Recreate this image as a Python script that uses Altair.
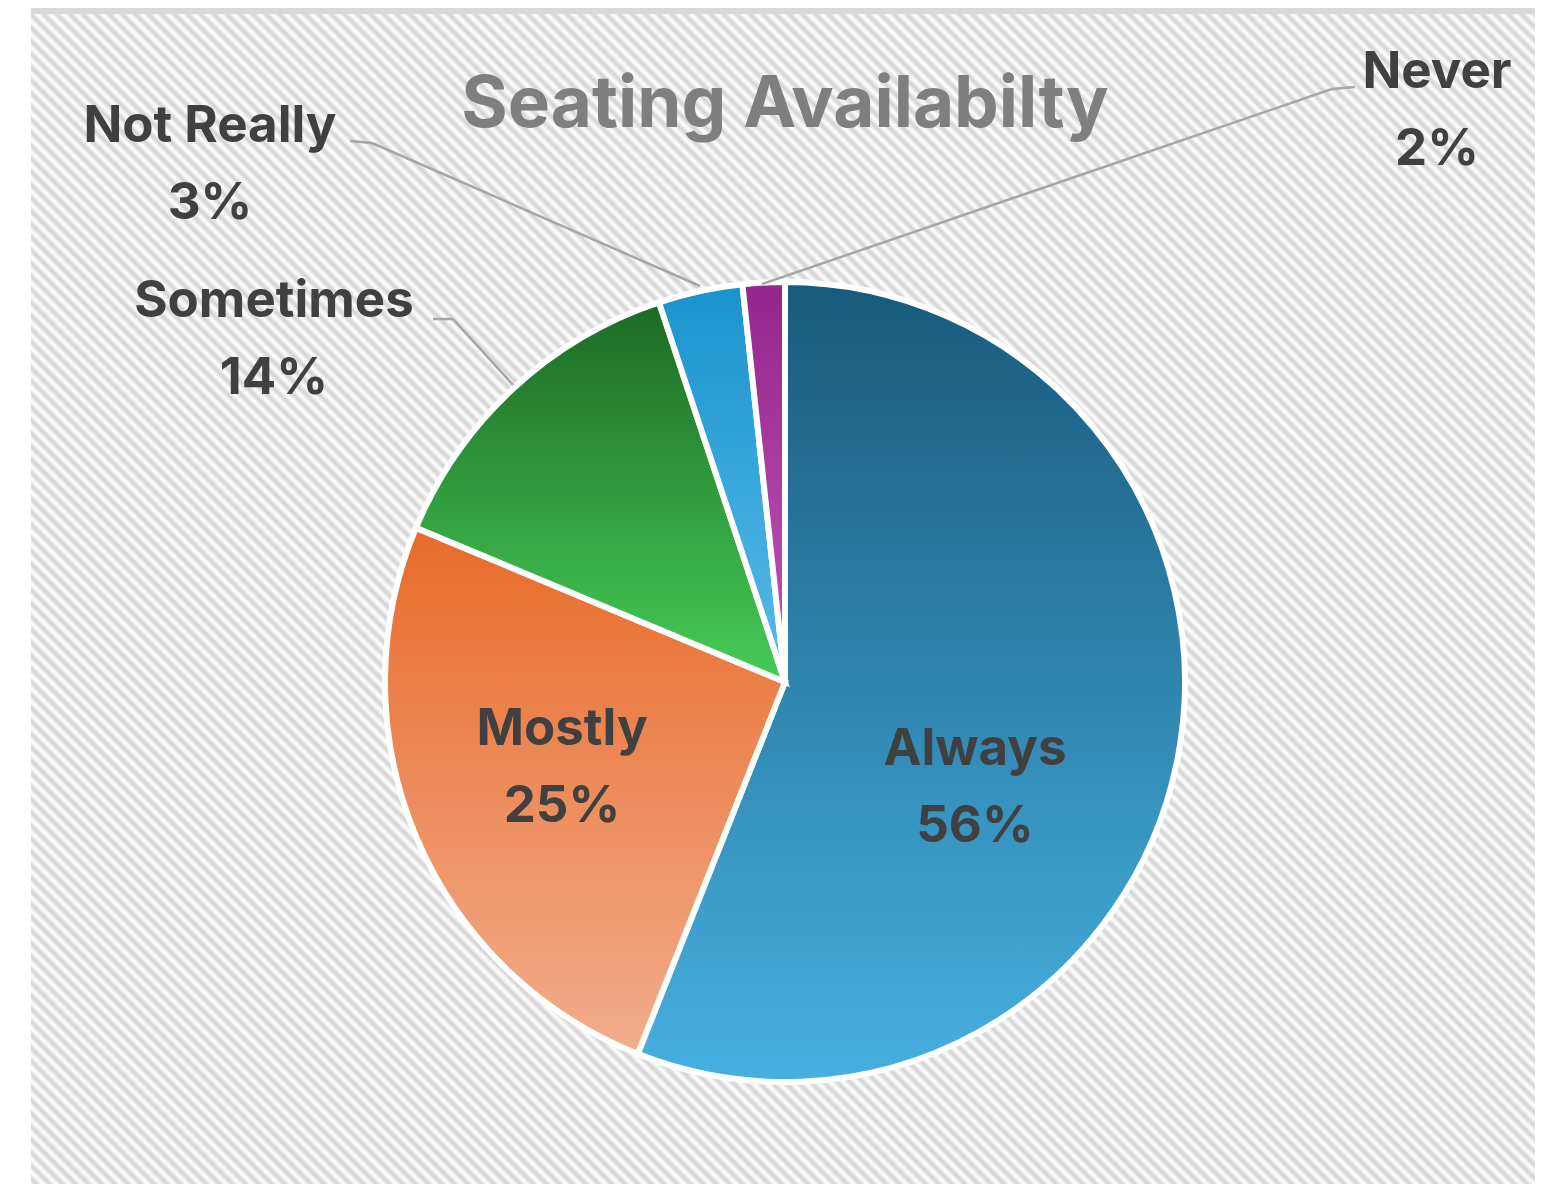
import altair as alt
import pandas as pd

# ---- data ----
categories = ["Always", "Mostly", "Sometimes", "Not Really", "Never"]
values = [56.0, 25.3, 13.6, 3.4, 1.7]
title_text = "Seating Availabilty"

# ---- styles / layout ----
W, H = 1548, 1184
CX, CY, R = 785, 682, 400
FONT = "Inter, Lato, Liberation Sans, sans-serif"
grad_colors = {
    "Always": ("#185a7b", "#47b0e2"),
    "Mostly": ("#e86b2a", "#f2ad8c"),
    "Sometimes": ("#1d6a24", "#46cc57"),
    "Not Really": ("#1993cd", "#58bbe9"),
    "Never": ("#93258d", "#c257b6"),
}
label_pos = {  # centre x, first baseline y
    "Always": (975, 765),
    "Mostly": (562, 745),
    "Sometimes": (274, 317),
    "Not Really": (210, 142),
    "Never": (1437, 88),
}
leaders = {
    "Sometimes": [(433, 319), (453, 319), (513, 385)],
    "Not Really": [(350, 141), (372, 143), (700, 286)],
    "Never": [(1355, 87), (1332, 89), (762, 284)],
}

df = pd.DataFrame({"cat": categories, "value": values})
df["end"] = df["value"].cumsum()
df["start"] = df["end"] - df["value"]
one = pd.DataFrame({"a": [0]})

# hatched background via a striped diagonal gradient
N = 230
stops = []
for k in range(2 * N + 1):
    stops.append(alt.GradientStop(offset=k / (2 * N), color="#ffffff" if k % 2 == 0 else "#d2d2d2"))
hatch = alt.Gradient(gradient="linear", stops=stops, x1=0, y1=1, x2=1, y2=0)

bg = alt.Chart(one).mark_rect(fill=hatch, clip=True).encode(
    x=alt.value(31), x2=alt.value(1535), y=alt.value(8), y2=alt.value(8 + 1504)
)
topband = alt.Chart(one).mark_rect(fill="#d9d9d9").encode(
    x=alt.value(31), x2=alt.value(1535), y=alt.value(8), y2=alt.value(14)
)

layers = [bg, topband]

theta_scale = alt.Scale(domain=[0, 100])
for c in categories:
    top, bot = grad_colors[c]
    g = alt.Gradient(
        gradient="linear",
        stops=[alt.GradientStop(offset=0, color=top), alt.GradientStop(offset=1, color=bot)],
        x1=0, y1=0, x2=0, y2=1,
    )
    layers.append(
        alt.Chart(df)
        .transform_filter(alt.datum.cat == c)
        .mark_arc(fill=g, stroke="white", strokeWidth=6, outerRadius=R)
        .encode(
            theta=alt.Theta("start:Q", scale=theta_scale),
            theta2="end:Q",
            x=alt.value(CX),
            y=alt.value(CY),
        )
    )

for c, pts in leaders.items():
    for (x0, y0), (x1, y1) in zip(pts[:-1], pts[1:]):
        layers.append(
            alt.Chart(one).mark_rule(color="#a6a6a6", strokeWidth=2.5).encode(
                x=alt.value(x0), x2=alt.value(x1), y=alt.value(y0), y2=alt.value(y1)
            )
        )

for c in categories:
    lx, ly = label_pos[c]
    layers.append(
        alt.Chart(df)
        .transform_filter(alt.datum.cat == c)
        .transform_calculate(label="datum.cat + '|' + format(datum.value, '.0f') + '%'")
        .mark_text(
            font=FONT, fontSize=51, fontWeight="bold", color="#404040",
            align="center", baseline="alphabetic", lineBreak="|", lineHeight=77,
        )
        .encode(text="label:N", x=alt.value(lx), y=alt.value(ly))
    )

layers.append(
    alt.Chart(one).mark_text(
        font=FONT, fontSize=71, fontWeight="bold", color="#7f7f7f",
        align="center", baseline="alphabetic",
    ).encode(text=alt.value(title_text), x=alt.value(785), y=alt.value(127))
)

chart = (
    alt.layer(*layers)
    .properties(width=W, height=H, padding=0, autosize="none", background="white")
    .configure_view(stroke=None)
)

chart.save("out.html", embed_options={"renderer": "svg", "actions": False})
